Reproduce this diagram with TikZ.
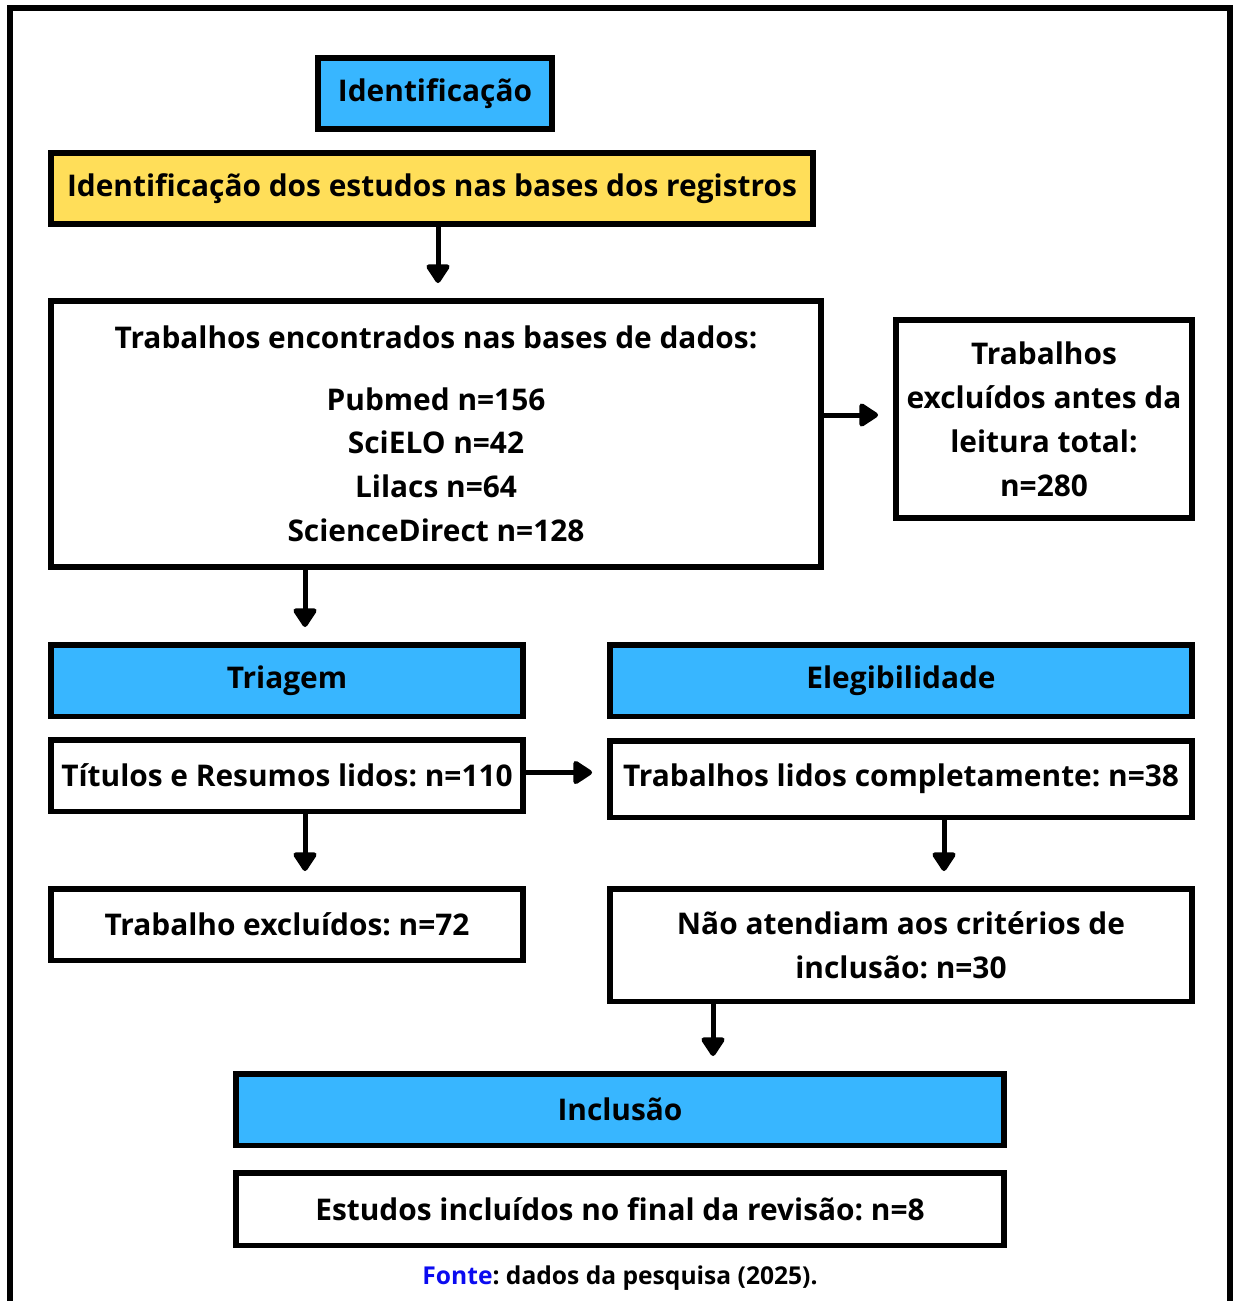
\documentclass[tikz,border=0pt]{standalone}
\usepackage{fontspec}
\setmainfont{Open Sans}
\usepackage{xcolor}
\usepackage{tikz}
\usetikzlibrary{arrows.meta}
\definecolor{etapa}{HTML}{38B6FF}
\definecolor{amarelo}{HTML}{FFDE59}
\definecolor{fonteazul}{HTML}{0B0BF0}
\frenchspacing
\tikzset{
    caixa/.style={rectangle, draw, line width=0.11cm, fill=white, align=center, inner sep=0pt,
        font=\fontsize{17}{25}\selectfont\bfseries},
    etapabox/.style={caixa, fill=etapa},
    titulo/.style={caixa, fill=amarelo},
    arrow/.style={-{Triangle[length=0.42cm, width=0.52cm, round]}, line width=0.1cm, shorten >=0.3cm}
}

\begin{document}
\begin{tikzpicture}[x=0.02cm, y=-0.02cm]
            \useasboundingbox (0,0) rectangle (1233,1301);
            % moldura aberta embaixo
            \draw[line width=0.12cm] (10,1305) -- (10,8) -- (1230,8) -- (1230,1305);

            \node (ident) [etapabox, minimum width=4.69cm, minimum height=1.43cm] at (435,93.5) {Identificação};
            \node (bases) [titulo, minimum width=15.25cm, minimum height=1.43cm] at (432,188.5) {Identificação dos estudos nas bases dos registros};
            \node (encontr) [caixa, minimum width=15.41cm, minimum height=5.33cm] at (436,434)
                {Trabalhos encontrados nas bases de dados:\\[0.35cm] Pubmed n=156\\ SciELO n=42\\ Lilacs n=64\\ ScienceDirect n=128};
            \node (antes) [caixa, minimum width=5.93cm, minimum height=3.97cm] at (1044,419)
                {Trabalhos\\ excluídos antes da\\ leitura total:\\ n=280};

            \node (triagem) [etapabox, minimum width=9.45cm, minimum height=1.43cm] at (287,680.5) {Triagem};
            \node (eleg) [etapabox, minimum width=11.65cm, minimum height=1.43cm] at (901,680.5) {Elegibilidade};
            \node (titulos) [caixa, minimum width=9.45cm, minimum height=1.43cm] at (287,775.5) {Títulos e Resumos lidos: n=110};
            \node (lidos) [caixa, minimum width=11.65cm, minimum height=1.53cm] at (901,779) {Trabalhos lidos completamente: n=38};
            \node (excl) [caixa, minimum width=9.45cm, minimum height=1.43cm] at (287,924.5) {Trabalho excluídos: n=72};
            \node (naoatend) [caixa, minimum width=11.65cm, minimum height=2.25cm] at (901,945) {Não atendiam aos critérios de\\ inclusão: n=30};

            \node (inclusao) [etapabox, minimum width=15.37cm, minimum height=1.43cm] at (620,1109.5) {Inclusão};
            \node (final) [caixa, minimum width=15.37cm, minimum height=1.45cm] at (620,1209) {Estudos incluídos no final da revisão: n=8};
            \node (fonte) [font=\fontsize{14}{16}\selectfont\bfseries] at (620,1278) {\textcolor{fonteazul}{Fonte}: dados da pesquisa (2025).};

            % pontos de saida das setas
            \coordinate (s1) at (305,0);
            \coordinate (s2) at (713,0);

            \draw[arrow] ([xshift=0.12cm]bases.south) -- ([xshift=0.12cm]bases.south |- encontr.north);
            \draw[arrow] ([yshift=0.38cm]encontr.east) -- ([yshift=0.38cm]encontr.east -| antes.west);
            \draw[arrow] (s1 |- encontr.south) -- (s1 |- triagem.north);
            \draw[arrow] ([yshift=0.06cm]titulos.east) -- ([yshift=0.06cm]titulos.east -| lidos.west);
            \draw[arrow] ([xshift=0.36cm]titulos.south) -- ([xshift=0.36cm]excl.north);
            \draw[arrow] ([xshift=0.86cm]lidos.south) -- ([xshift=0.86cm]naoatend.north);
            \draw[arrow] (s2 |- naoatend.south) -- (s2 |- inclusao.north);
        \end{tikzpicture}
\end{document}
